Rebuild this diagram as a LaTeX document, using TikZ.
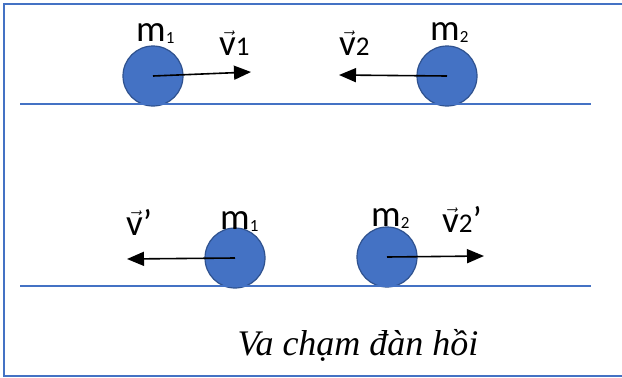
\documentclass[tikz,border=0pt]{standalone}
\usepackage{fontspec}
\usepackage{tikz}
\usetikzlibrary{arrows.meta}
\setmainfont{Liberation Serif}
\newfontfamily\labelfont{Carlito}
\definecolor{frameBlue}{HTML}{4472C4}
\definecolor{ballBlue}{HTML}{4472C4}
\definecolor{ballEdge}{HTML}{2F528F}
\newcommand{\msub}[1]{\raisebox{-0.06em}{\fontsize{17}{17}\selectfont #1}}
\newcommand{\vsub}[1]{{\fontsize{27}{27}\selectfont #1}}
\newcommand{\vecv}{$\vec{\mbox{v}}$}
\newcommand{\prm}{’}

\begin{document}
\begin{tikzpicture}[x=1pt,y=-1pt,
    ball/.style={circle, minimum size=60pt, inner sep=0pt, fill=ballBlue, draw=ballEdge, line width=1.2pt},
    vel/.style={line width=1.6pt, -{Triangle[length=17pt,width=14pt]}},
    ground/.style={frameBlue, line width=2.4pt},
    lbl/.style={font=\labelfont\fontsize{37}{42}\selectfont, inner sep=0pt, anchor=base west}]

    \useasboundingbox (0,0) rectangle (622,378);
    \draw[frameBlue, line width=2.6pt] (622,4) -- (4,4) -- (4,376) -- (622,376);

    % before the collision
    \node[ball] (m1a) at (153,76) {};
    \node[ball] (m2a) at (447,76) {};
    \draw[ground] (20,104) -- (591,104);
    \coordinate (v1tip) at (251,72);
    \coordinate (v2tip) at (339,75);
    \draw[vel] (m1a.center) -- (v1tip);
    \draw[vel] (m2a.center) -- (v2tip);
    \node[lbl] (lm1a) at (136,41) {m\msub{1}};
    \node[lbl] (lv1) at (219,55) {\vecv\vsub{1}};
    \node[lbl] (lv2) at (339,55) {\vecv\vsub{2}};
    \node[lbl] (lm2a) at (430,40) {m\msub{2}};

    % after the collision
    \node[ball] (m1b) at (235,258) {};
    \node[ball] (m2b) at (387,257) {};
    \draw[ground] (20,286) -- (591,286);
    \coordinate (v1ptip) at (127,259);
    \coordinate (v2ptip) at (484,256);
    \draw[vel] (m1b.center) -- (v1ptip);
    \draw[vel] (m2b.center) -- (v2ptip);
    \node[lbl] (lv1p) at (126,235) {\vecv\prm};
    \node[lbl] (lm1b) at (220,229) {m\msub{1}};
    \node[lbl] (lm2b) at (371,226) {m\msub{2}};
    \node[lbl] (lv2p) at (442,232) {\vecv\vsub{2}\prm};

    \node[font=\itshape\fontsize{36}{42}\selectfont, anchor=base] (title) at (358,355) {Va chạm đàn hồi};

\end{tikzpicture}
\end{document}
